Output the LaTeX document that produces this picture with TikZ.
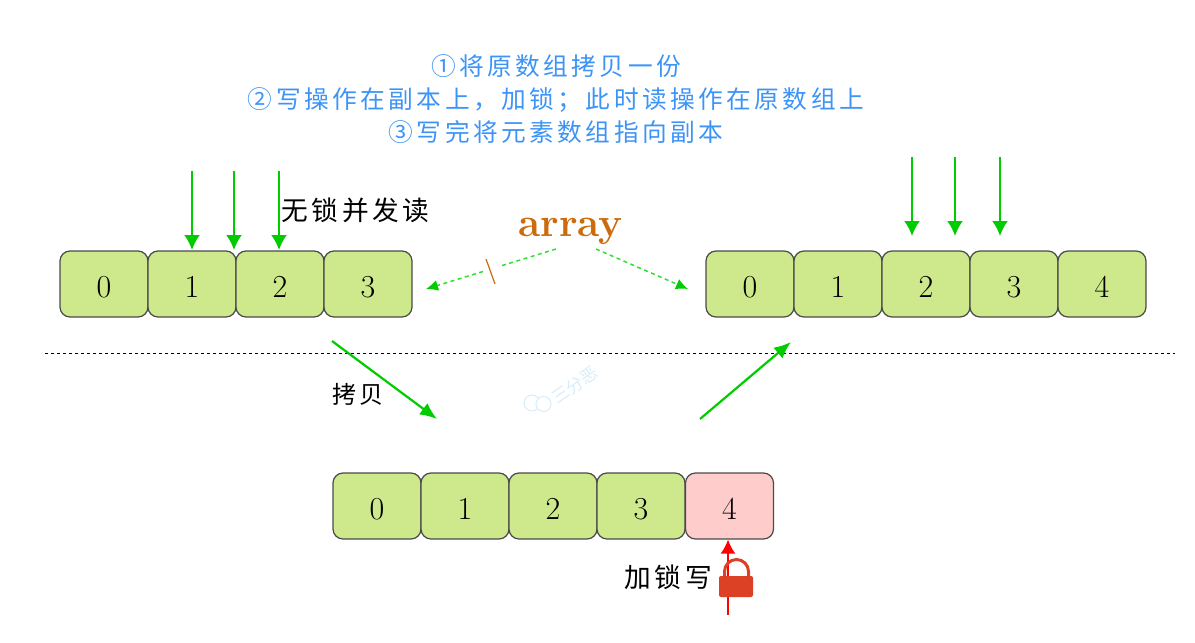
\documentclass[tikz,border=0pt]{standalone}
\usepackage{fontspec}
\usetikzlibrary{arrows.meta}
\newfontfamily\cjk[LetterSpace=14]{Noto Sans CJK SC}
\newfontfamily\cjkplain{Noto Sans CJK SC}
\newcommand{\cellnum}[1]{\raisebox{-13pt}[0pt][0pt]{#1}}
\definecolor{cellgreen}{HTML}{CDE98C}
\definecolor{cellred}{HTML}{FFCCCC}
\definecolor{cellline}{HTML}{4A4A4A}
\definecolor{readgreen}{HTML}{00CC00}
\definecolor{notegreen}{HTML}{33DD33}
\definecolor{stepblue}{HTML}{3D94F6}
\definecolor{arrayorange}{HTML}{CC6A0E}
\definecolor{lockred}{HTML}{DD4125}
\definecolor{markblue}{HTML}{D8ECFA}
\tikzset{
  x=1pt,y=-1pt,
  cell/.style={draw=cellline,line width=1.2pt,rounded corners=10pt,fill=cellgreen,
    minimum width=88pt,minimum height=66pt,inner sep=0pt,
    font=\fontsize{32}{32}\selectfont},
  lockedcell/.style={cell,fill=cellred},
  readarrow/.style={draw=readgreen,line width=2.2pt,-{Latex[length=15pt,width=16pt]}},
  copyarrow/.style={draw=readgreen,line width=2.2pt,-{Latex[length=17pt,width=14pt]}},
  refarrow/.style={draw=notegreen,line width=1.5pt,dash pattern=on 4pt off 3.5pt},
  reftip/.style={refarrow,-{Latex[length=12pt,width=11pt,fill=readgreen,color=readgreen]}},
  caption/.style={font=\cjk\fontsize{26.7}{26.7}\selectfont,text=black,inner sep=0pt},
  steps/.style={font=\cjk\fontsize{24.7}{33}\selectfont,text=stepblue,align=center,inner sep=0pt},
}
\begin{document}
\begin{tikzpicture}
\useasboundingbox (0,0) rectangle (1195,643);

% instructions
\node[steps] (notes) at (556,99) {①将原数组拷贝一份\\②写操作在副本上，加锁；此时读操作在原数组上\\③写完将元素数组指向副本};

% original array
\foreach \n/\t [count=\i from 0] in {a0/0,a1/1,a2/2,a3/3}
  \node[cell] (\n) at (104+88*\i,284) {\cellnum{\t}};

% array after the write has been published
\foreach \n/\t [count=\i from 0] in {b0/0,b1/1,b2/2,b3/3,b4/4}
  \node[cell] (\n) at (750+88*\i,284) {\cellnum{\t}};

% working copy
\foreach \n/\t [count=\i from 0] in {c0/0,c1/1,c2/2,c3/3}
  \node[cell] (\n) at (377+88*\i,506) {\cellnum{\t}};
\node[lockedcell] (c4) at (729.5,506) {\cellnum{4}};

% concurrent readers
\coordinate (r1) at (192,171); \coordinate (r1e) at (192,250);
\coordinate (r2) at (234,171); \coordinate (r2e) at (234,250);
\coordinate (r3) at (279,171); \coordinate (r3e) at (279,250);
\draw[readarrow] (r1) -- (r1e);
\draw[readarrow] (r2) -- (r2e);
\draw[readarrow] (r3) -- (r3e);
\coordinate (s1) at (912,157); \coordinate (s1e) at (912,236);
\coordinate (s2) at (955,157); \coordinate (s2e) at (955,236);
\coordinate (s3) at (1000,157); \coordinate (s3e) at (1000,236);
\draw[readarrow] (s1) -- (s1e);
\draw[readarrow] (s2) -- (s2e);
\draw[readarrow] (s3) -- (s3e);
\node[caption,anchor=west] (lockfree) at (281,210) {无锁并发读};

% array reference
\node[font=\fontsize{40.5}{40.5}\selectfont\bfseries,text=arrayorange,inner sep=0pt] (array) at (570.5,231) {array};
\coordinate (la) at (556,249);
\coordinate (lb) at (499,266.5);
\coordinate (lc) at (483,271.5);
\coordinate (ld) at (426,289);
\coordinate (ra) at (596,249);
\coordinate (rb) at (688,289);
\draw[refarrow] (la) -- (lb);
\draw[reftip] (lc) -- (ld);
\draw[reftip] (ra) -- (rb);
\coordinate (cut1) at (486,259);
\coordinate (cut2) at (495,284);
\draw[arrayorange,line width=1.2pt] (cut1) -- (cut2);

% divider
\coordinate (d1) at (45,353);
\coordinate (d2) at (1175,353);
\draw[black,line width=0.9pt,dash pattern=on 3pt off 3pt] (d1) -- (d2);

% copy and publish
\coordinate (cp1) at (332,341); \coordinate (cp2) at (437,419);
\coordinate (pb1) at (700,419); \coordinate (pb2) at (791,342);
\draw[copyarrow] (cp1) -- (cp2);
\draw[copyarrow] (pb1) -- (pb2);
\node[caption,font=\cjk\fontsize{24}{24}\selectfont] (copylabel) at (358,394) {拷贝};

% watermark
\draw[markblue,line width=1pt,fill=white] (532,403) circle (8);
\draw[markblue,line width=1pt,fill=white] (543.5,404) circle (7.5);
\node[font=\cjkplain\fontsize{17}{17}\selectfont,text=markblue,rotate=35,inner sep=0pt] (mark) at (575,385) {三分恶};

% locked writer
\coordinate (w1) at (728,615);
\draw[red,line width=1.8pt,-{Latex[length=14pt,width=15pt]}] (w1) -- (c4.south -| w1);
\node[caption,anchor=west] (writer) at (624,577) {加锁写};
\draw[lockred,line width=3pt] (724.5,578) -- (724.5,571.5) arc[start angle=180,end angle=360,radius=12] -- (748.5,578);
\fill[lockred,rounded corners=2pt] (719,576) rectangle (753,597);
\end{tikzpicture}
\end{document}
